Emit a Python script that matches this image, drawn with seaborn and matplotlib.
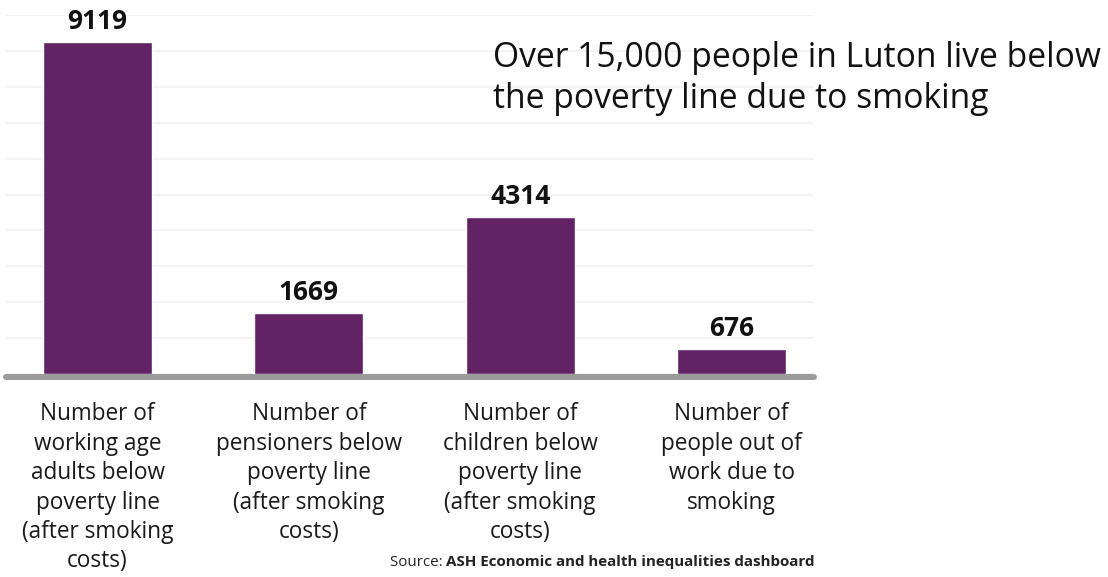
import matplotlib
matplotlib.use("Agg")
import matplotlib.pyplot as plt
import seaborn as sns
import numpy as np
import pandas as pd
from matplotlib.lines import Line2D

categories = [
    "Number of\nworking age\nadults below\npoverty line\n(after smoking\ncosts)",
    "Number of\npensioners below\npoverty line\n(after smoking\ncosts)",
    "Number of\nchildren below\npoverty line\n(after smoking\ncosts)",
    "Number of\npeople out of\nwork due to\nsmoking",
]
values = [9119, 1669, 4314, 676]
title_text = "Over 15,000 people in Luton live below\nthe poverty line due to smoking"
source_label = "Source: "
source_name = "ASH Economic and health inequalities dashboard"

sns.set_theme(style="white")
plt.rcParams['font.family'] = ['Open Sans', 'DejaVu Sans']

W, H = 1108, 577
fig = plt.figure(figsize=(W / 100, H / 100), dpi=100)
ax_left, ax_right, ax_top, ax_bot = 6, 814, 15, 374
ax = fig.add_axes([ax_left / W, 1 - ax_bot / H, (ax_right - ax_left) / W, (ax_bot - ax_top) / H])

df = pd.DataFrame({"cat": categories, "val": values})
sns.barplot(data=df, x="cat", y="val", color="#612364", saturation=1, width=0.516, ax=ax)

ymax = 9860
ax.set_ylim(0, ymax)
ax.set_xlim(-0.433, 3.39)
ax.set_yticks(np.linspace(0, ymax, 11))
ax.yaxis.grid(True, color="#f4f4f4", linewidth=1.5)
ax.set_axisbelow(True)
ax.set_yticklabels([])
ax.tick_params(axis="y", length=0)
for s in ax.spines.values():
    s.set_visible(False)
ax.set_xlabel("")
ax.set_ylabel("")

ax.set_xticks(range(len(categories)))
ax.set_xticklabels(categories, fontsize=16.3, color="#1a1a1a", linespacing=1.3, va="top")
ax.tick_params(axis="x", length=0, pad=20.5)

for i, v in enumerate(values):
    ax.annotate(str(v), (i, v), xytext=(0, 5), textcoords="offset points",
                ha="center", va="bottom", fontsize=19, fontweight="bold", color="#111111")

# baseline
fig.add_artist(Line2D([ax_left / W, ax_right / W], [1 - 377 / H, 1 - 377 / H],
                      color="#9b9b9b", linewidth=4.3, transform=fig.transFigure))

fig.text(493 / W, 1 - 41 / H, title_text, fontsize=24.2, color="#111111",
         ha="left", va="top", linespacing=1.27)

fig.canvas.draw()
r = fig.canvas.get_renderer()
t2 = fig.text(815 / W, 1 - 566 / H, source_name, fontsize=10.9, fontweight="bold",
              color="#222222", ha="right", va="baseline")
bb = t2.get_window_extent(renderer=r)
fig.text(bb.x0 / W, 1 - 566 / H, source_label, fontsize=10.9, color="#222222",
         ha="right", va="baseline")

fig.savefig("out.png", dpi=100, facecolor="white")
